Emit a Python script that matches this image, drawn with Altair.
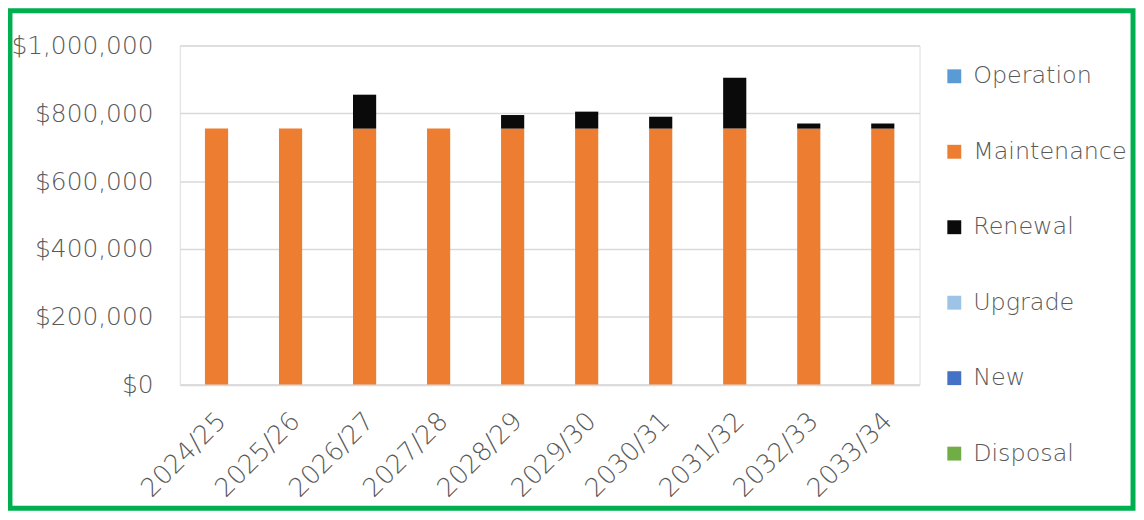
import altair as alt
import pandas as pd

years = ["2024/25", "2025/26", "2026/27", "2027/28", "2028/29",
         "2029/30", "2030/31", "2031/32", "2032/33", "2033/34"]
categories = ["Operation", "Maintenance", "Renewal", "Upgrade", "New", "Disposal"]
colors = ["#5B9BD5", "#ED7D31", "#0A0A0A", "#9DC3E6", "#4472C4", "#70AD47"]

operation = [0, 0, 0, 0, 0, 0, 0, 0, 0, 0]
maintenance = [755000, 755000, 755000, 755000, 755000, 755000, 755000, 755000, 755000, 755000]
renewal = [0, 0, 100000, 0, 40000, 50000, 35000, 150000, 15000, 15000]
upgrade = [0, 0, 0, 0, 0, 0, 0, 0, 0, 0]
new = [0, 0, 0, 0, 0, 0, 0, 0, 0, 0]
disposal = [0, 0, 0, 0, 0, 0, 0, 0, 0, 0]

series = [operation, maintenance, renewal, upgrade, new, disposal]
rows = []
for ci, (cat, vals) in enumerate(zip(categories, series)):
    for y, v in zip(years, vals):
        rows.append({"Year": y, "Category": cat, "Value": v, "idx": ci})
df = pd.DataFrame(rows)

FONT = "DejaVu Sans"
GREY = "#595959"
W = 300

bars = alt.Chart(df).mark_bar().encode(
    x=alt.X("Year:N", sort=years, title=None,
            scale=alt.Scale(paddingInner=0.687, paddingOuter=0.34),
            axis=alt.Axis(labelAngle=-45, labelFontSize=26, labelColor=GREY,
                          labelFont=FONT, labelFontWeight=W, ticks=False,
                          labelPadding=23, labelOffset=-4,
                          domainColor="#D9D9D9", domainWidth=1.5, grid=False)),
    y=alt.Y("Value:Q", stack="zero", title=None,
            scale=alt.Scale(domain=[0, 1000000], nice=False),
            axis=alt.Axis(values=[0, 200000, 400000, 600000, 800000, 1000000],
                          format="$,.0f", labelFontSize=25, labelColor=GREY,
                          labelFont=FONT, labelFontWeight=W, ticks=False, domain=False,
                          labelPadding=27, gridColor="#D9D9D9", gridWidth=1.5)),
    color=alt.Color("Category:N", sort=categories,
                    scale=alt.Scale(domain=categories, range=colors),
                    legend=alt.Legend(title=None, orient="none", legendX=768, legendY=19,
                                      symbolType="square", symbolSize=196,
                                      symbolStrokeWidth=0, labelFontSize=24,
                                      labelFont=FONT, labelFontWeight=W, labelColor=GREY,
                                      labelOffset=7, rowPadding=52,
                                      labelLimit=300)),
    order=alt.Order("idx:Q", sort="ascending"),
)

border_df = pd.DataFrame({"b": [0]})
border = alt.Chart(border_df).mark_rect(
    filled=False, stroke="#00B050", strokeWidth=5
).encode(
    x=alt.value(-171), x2=alt.value(960), y=alt.value(-35), y2=alt.value(466)
)

chart = alt.layer(bars, border).properties(
    width=745, height=341.5,
    autosize=alt.AutoSizeParams(type="none"),
    padding={"left": 173, "top": 36, "right": 218, "bottom": 126},
).configure_view(stroke=None).configure(background="white")

chart.save("out.html", embed_options={"renderer": "svg", "actions": False})
